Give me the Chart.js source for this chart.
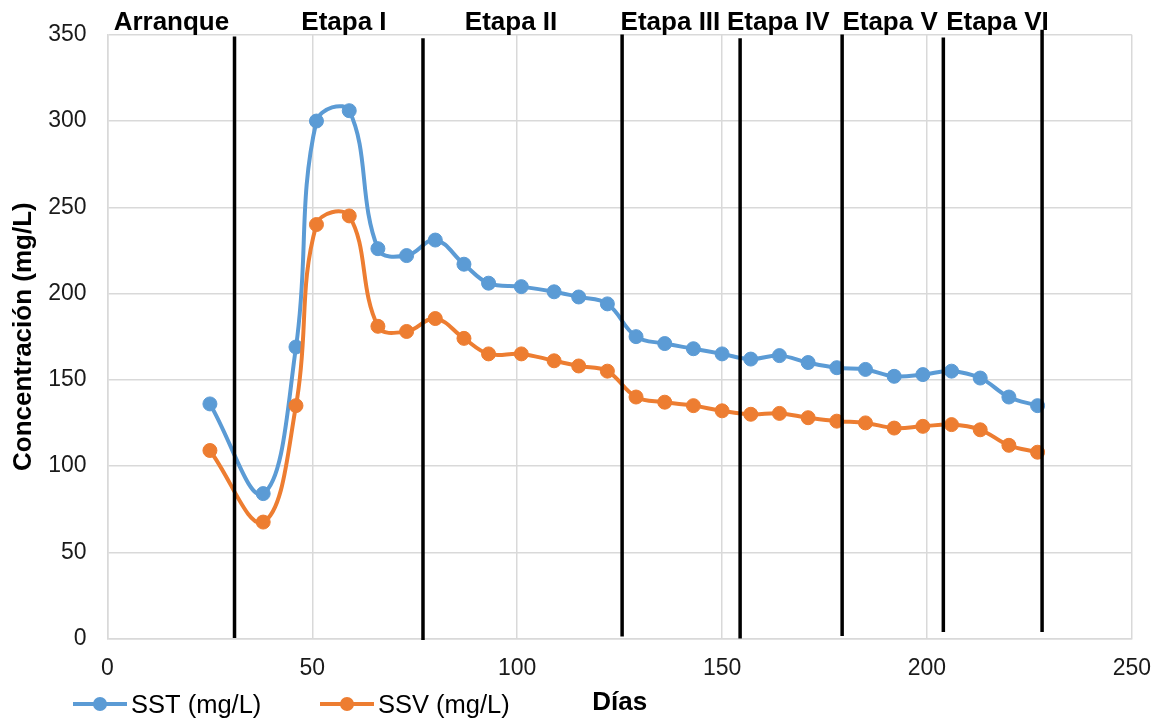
<!DOCTYPE html>
<html>
<head>
<meta charset="utf-8">
<script src="https://cdn.jsdelivr.net/npm/chart.js@4.4.0/dist/chart.umd.min.js"></script>
<style>
  html, body { margin: 0; padding: 0; background: #fff; }
</style>
</head>
<body>
<canvas id="grafico" width="1167" height="721"></canvas>
<script>
// Días de muestreo y concentraciones (mg/L)
const dias = [25, 38, 46, 51, 59, 66, 73, 80, 87, 93, 101, 109, 115, 122, 129, 136, 143, 150, 157, 164, 171, 178, 185, 192, 199, 206, 213, 220, 227];
const sst = [136, 84, 169, 300, 306, 226, 222, 231, 217, 206, 204, 201, 198, 194, 175, 171, 168, 165, 162, 164, 160, 157, 156, 152, 153, 155, 151, 140, 135];
const ssv = [109, 67.5, 135, 240, 245, 181, 178, 185.5, 174, 165, 165, 161, 158, 155, 140, 137, 135, 132, 130, 130.5, 128, 126, 125, 122, 123, 124, 121, 112, 108];

// Separadores de etapas (día) y hasta dónde llega cada línea
const etapaX = [31, 77, 125.6, 154.4, 179.3, 204, 228.1];
const etapaArriba = [349, 348, 350.2, 348, 350.2, 348.5, 352.9];
const etapaAbajo = [0.3, -0.9, 1.1, 0, 1.4, 3.8, 3.8];

// Nombres de etapas y su posición (día) sobre el gráfico
const etapaNombres = ['Arranque', 'Etapa I', 'Etapa II', 'Etapa III', 'Etapa IV', 'Etapa V', 'Etapa VI'];
const etapaNombreX = [15.6, 57.7, 98.5, 137.4, 163.7, 191.0, 217.2];

const FUENTE = "'Liberation Sans', Arial, sans-serif";
const AZUL = '#5B9BD5';
const NARANJA = '#ED7D31';
const GRIS = '#D9D9D9';

function serie(label, valores, color, orden) {
    return {
        label: label,
        data: dias.map((d, i) => ({ x: d, y: valores[i] })),
        borderColor: color,
        backgroundColor: color,
        borderWidth: 4,
        pointRadius: 7,
        pointBorderWidth: 1,
        pointBackgroundColor: color,
        pointBorderColor: color,
        tension: 0.4,
        order: orden
    };
}

const datasets = [serie('SST (mg/L)', sst, AZUL, 2), serie('SSV (mg/L)', ssv, NARANJA, 1)];

// lineas verticales negras entre etapas
etapaX.forEach((x, i) => {
    datasets.push({
        label: 'etapa' + i,
        data: [{ x: x, y: etapaAbajo[i] }, { x: x, y: etapaArriba[i] }],
        borderColor: '#000',
        borderWidth: 3.5,
        pointRadius: 0,
        tension: 0,
        clip: false,
        order: 0
    });
});

// Textos de las etapas arriba del área de trazado
const nombresEtapas = {
    id: 'nombresEtapas',
    afterDraw(chart) {
        const ctx = chart.ctx;
        const xs = chart.scales.x;
        ctx.save();
        ctx.font = 'bold 26px ' + FUENTE;
        ctx.fillStyle = '#000';
        ctx.textAlign = 'center';
        ctx.textBaseline = 'alphabetic';
        etapaNombres.forEach((t, i) => {
            ctx.fillText(t, xs.getPixelForValue(etapaNombreX[i]), 30);
        });
        ctx.restore();
    }
};

// Leyenda abajo a la izquierda, en la misma fila que el título del eje x
const leyenda = {
    id: 'leyenda',
    afterDraw(chart) {
        const ctx = chart.ctx;
        const y = 704;
        const inicios = [73, 320];
        ctx.save();
        [0, 1].forEach((k) => {
            const ds = chart.data.datasets[k];
            const x0 = inicios[k];
            ctx.strokeStyle = ds.borderColor;
            ctx.lineWidth = 4;
            ctx.beginPath();
            ctx.moveTo(x0, y);
            ctx.lineTo(x0 + 54, y);
            ctx.stroke();
            ctx.fillStyle = ds.borderColor;
            ctx.beginPath();
            ctx.arc(x0 + 27, y, 7, 0, Math.PI * 2);
            ctx.fill();
            ctx.fillStyle = '#000';
            ctx.font = '25.5px ' + FUENTE;
            ctx.textAlign = 'left';
            ctx.textBaseline = 'alphabetic';
            ctx.fillText(ds.label, x0 + 58, 713);
        });
        ctx.restore();
    }
};

new Chart(document.getElementById('grafico'), {
    type: 'line',
    data: { datasets: datasets },
    plugins: [nombresEtapas, leyenda],
    options: {
        responsive: false,
        animation: false,
        layout: { padding: { left: 0, right: 34, top: 32, bottom: 0 } },
        plugins: {
            legend: { display: false },
            tooltip: { enabled: false }
        },
        scales: {
            x: {
                type: 'linear',
                min: 0,
                max: 250,
                ticks: { stepSize: 50, padding: 16, color: '#1a1a1a', font: { family: FUENTE, size: 23 } },
                grid: { color: GRIS, lineWidth: 1.5, drawTicks: false },
                border: { color: GRIS, width: 1.5 },
                title: {
                    display: true,
                    text: 'Días',
                    color: '#000',
                    font: { family: FUENTE, size: 26, weight: 'bold' },
                    padding: { top: 0, bottom: 3 }
                },
                afterFit: (s) => { s.height = 82.5; }
            },
            y: {
                min: 0,
                max: 350,
                ticks: { stepSize: 50, padding: 21, color: '#1a1a1a', font: { family: FUENTE, size: 23 } },
                grid: { color: GRIS, lineWidth: 1.5, drawTicks: false },
                border: { color: GRIS, width: 1.5 },
                title: {
                    display: true,
                    text: 'Concentración (mg/L)',
                    color: '#000',
                    font: { family: FUENTE, size: 26, weight: 'bold' },
                    padding: { top: 8, bottom: 0 }
                },
                afterFit: (s) => { s.width = 107.5; }
            }
        }
    }
});
</script>
</body>
</html>
